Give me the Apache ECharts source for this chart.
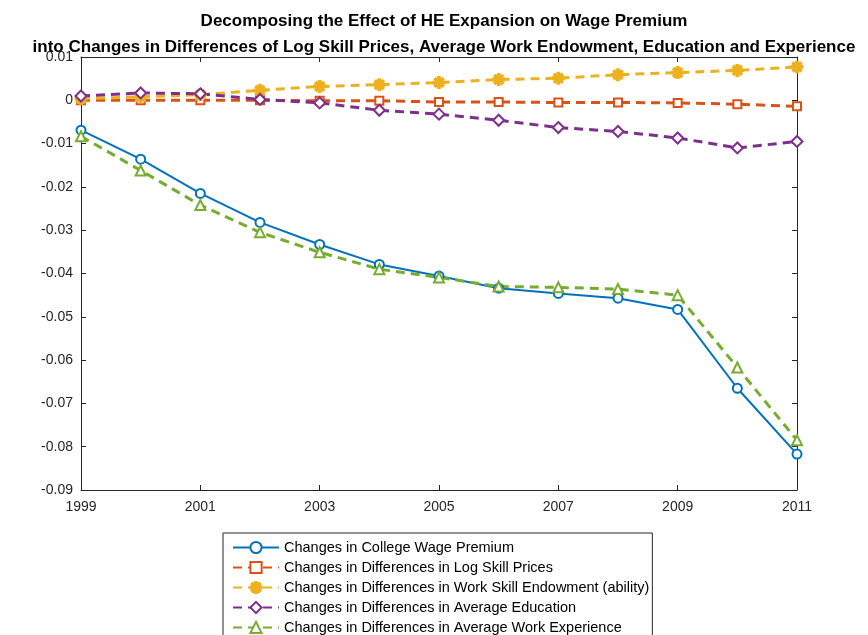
<!DOCTYPE html>
<html>
<head>
<meta charset="utf-8">
<script src="https://cdn.jsdelivr.net/npm/echarts@6/dist/echarts.min.js"></script>
<style>
  html, body { margin: 0; padding: 0; background: #fff; }
  #chart { width: 868px; height: 635px; }
</style>
</head>
<body>
<div id="chart"></div>
<script>
const years = ['1999','2000','2001','2002','2003','2004','2005','2006','2007','2008','2009','2010','2011'];

const wagePremium = [-0.0069,-0.0136,-0.0215,-0.0282,-0.0333,-0.0379,-0.0406,-0.0434,-0.0446,-0.0457,-0.0483,-0.0665,-0.0817];
const logSkillPrices = [0,0,0,0,-0.0001,-0.0001,-0.0004,-0.0004,-0.0005,-0.0005,-0.0006,-0.0009,-0.0014];
const skillEndowment = [0.0004,0.0008,0.0013,0.0023,0.0032,0.0036,0.0041,0.0048,0.0051,0.0059,0.0064,0.0069,0.0077];
const avgEducation = [0.001,0.0017,0.0015,0.0002,-0.0006,-0.0023,-0.0032,-0.0046,-0.0063,-0.0072,-0.0087,-0.011,-0.0095];
const workExperience = [-0.0083,-0.0162,-0.0242,-0.0305,-0.0351,-0.039,-0.0409,-0.043,-0.0432,-0.0436,-0.045,-0.0617,-0.0785];

const names = [
    'Changes in College Wage Premium',
    'Changes in Differences in Log Skill Prices',
    'Changes in Differences in Work Skill Endowment (ability)',
    'Changes in Differences in Average Education',
    'Changes in Differences in Average Work Experience'
];

const asterisk = 'path://M-0.8,-5L0.8,-5L0.8,5L-0.8,5Z M-5,-0.8L5,-0.8L5,0.8L-5,0.8Z M-4,-3L-3,-4L4,3L3,4Z M3,-4L4,-3L-3,4L-4,3Z';

const axisCol = '#262626';
const font = 'Liberation Sans, Arial, sans-serif';

function line(name, data, color, symbol, size, solid) {
    return {
        name: name,
        type: 'line',
        data: data,
        symbol: symbol,
        symbolSize: size,
        showAllSymbol: true,
        itemStyle: {color: color, borderColor: color, borderWidth: 2},
        lineStyle: {color: color, width: solid ? 2 : 3, type: solid ? 'solid' : [9, 6]},
        emphasis: {disabled: true},
        animation: false
    };
}

const chart = echarts.init(document.getElementById('chart'));

const option = {
    backgroundColor: '#fff',
    title: {
        text: 'Decomposing the Effect of HE Expansion on Wage Premium\ninto Changes in Differences of Log Skill Prices, Average Work Endowment, Education and Experience',
        left: 439,
        textAlign: 'center',
        top: 3,
        textStyle: {fontFamily: font, fontSize: 17, fontWeight: 'bold', color: '#000', lineHeight: 26}
    },
    grid: {left: 81, right: 71, top: 57, bottom: 145},
    legend: {
        orient: 'vertical',
        left: 223,
        top: 533,
        height: 200,
        padding: [7, 3, 7, 9],
        itemWidth: 46,
        itemHeight: 14,
        itemGap: 5,
        backgroundColor: '#fff',
        borderColor: axisCol,
        borderWidth: 1,
        borderRadius: 0,
        textStyle: {fontFamily: font, fontSize: 14.5, color: '#000'},
        data: names
    },
    xAxis: [{
        type: 'category',
        data: years,
        boundaryGap: false,
        axisLine: {onZero: false, lineStyle: {color: axisCol}},
        axisTick: {inside: true, length: 5, interval: 1, lineStyle: {color: axisCol}},
        axisLabel: {interval: 1, margin: 10, fontFamily: font, fontSize: 14, color: axisCol},
        splitLine: {show: false}
    }, {
        type: 'category',
        data: years,
        position: 'top',
        boundaryGap: false,
        axisLine: {onZero: false, lineStyle: {color: axisCol}},
        axisTick: {inside: true, length: 5, interval: 1, lineStyle: {color: axisCol}},
        axisLabel: {show: false},
        splitLine: {show: false}
    }],
    yAxis: [{
        type: 'value',
        min: -0.09,
        max: 0.01,
        interval: 0.01,
        axisLine: {show: true, onZero: false, lineStyle: {color: axisCol}},
        axisTick: {show: true, inside: true, length: 5, lineStyle: {color: axisCol}},
        axisLabel: {margin: 8, fontFamily: font, fontSize: 14, color: axisCol,
            formatter: v => String(+v.toFixed(2))},
        splitLine: {show: false}
    }, {
        type: 'value',
        position: 'right',
        min: -0.09,
        max: 0.01,
        interval: 0.01,
        axisLine: {show: true, onZero: false, lineStyle: {color: axisCol}},
        axisTick: {show: true, inside: true, length: 5, lineStyle: {color: axisCol}},
        axisLabel: {show: false},
        splitLine: {show: false}
    }],
    series: [
        line(names[0], wagePremium, '#0072BD', 'emptyCircle', 9, true),
        line(names[1], logSkillPrices, '#D95319', 'emptyRect', 8, false),
        line(names[2], skillEndowment, '#EDB120', asterisk, 11, false),
        line(names[3], avgEducation, '#7E2F8E', 'emptyDiamond', 11, false),
        line(names[4], workExperience, '#77AC30', 'emptyTriangle', 10, false)
    ]
};

chart.setOption(option);
</script>
</body>
</html>
